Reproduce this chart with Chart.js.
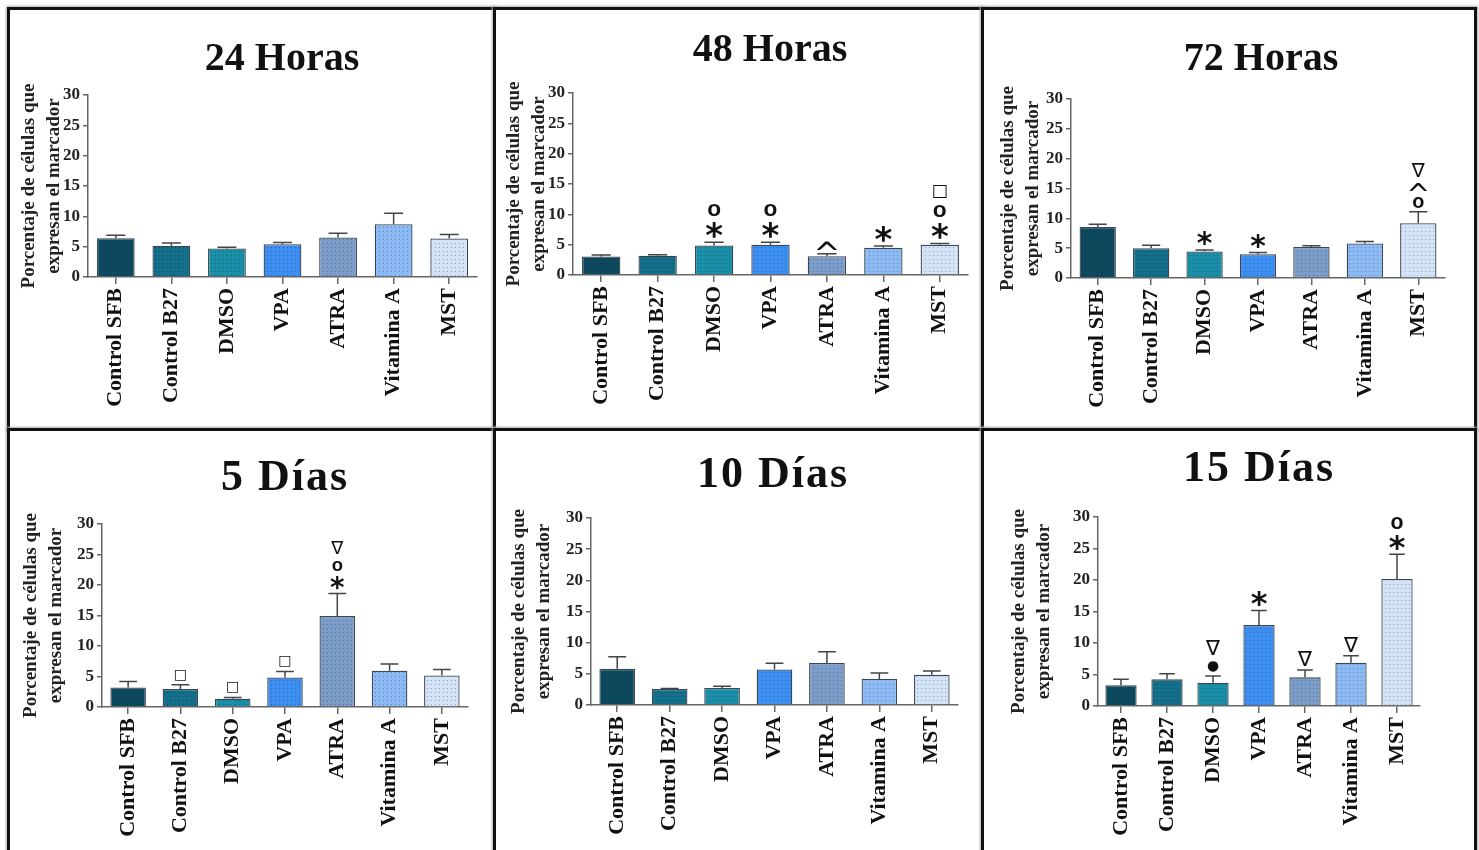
<!DOCTYPE html>
<html>
<head>
<meta charset="utf-8">
<script src="https://cdn.jsdelivr.net/npm/chart.js@4.4.1/dist/chart.umd.min.js"></script>
<style>
body { margin: 0; background: #fff; width: 1479px; height: 850px; overflow: hidden; position: relative; }
.panel { position: absolute; box-sizing: border-box; border: 3px solid #111; box-shadow: 0 0 2px 1px #aaa; background: #fff; }
.panel canvas { position: absolute; left: 0; top: 0; }
.ttl { position: absolute; width: 300px; text-align: center; color: #111; white-space: nowrap; font-family: "Liberation Serif", serif; z-index: 2; }
</style>
</head>
<body>
<script>
const categories = ['Control SFB', 'Control B27', 'DMSO', 'VPA', 'ATRA', 'Vitamina A', 'MST'];
const panelTitles = ['24 Horas', '48 Horas', '72 Horas', '5 Días', '10 Días', '15 Días'];
const yAxisTitle = ['Porcentaje de células que', 'expresan el marcador'];
const yMax = 30;
const yStep = 5;

// mean % of cells, and SEM (error bar length above the bar)
const values24h = [6.4, 5.15, 4.7, 5.4, 6.5, 8.7, 6.35];
const errors24h = [0.5, 0.45, 0.2, 0.3, 0.7, 1.8, 0.65];
const values48h = [3.05, 3.17, 4.87, 5.0, 3.1, 4.48, 5.0];
const errors48h = [0.25, 0.18, 0.53, 0.4, 0.4, 0.32, 0.2];
const values72h = [8.56, 4.98, 4.43, 3.98, 5.2, 5.77, 9.18];
const errors72h = [0.44, 0.52, 0.27, 0.28, 0.2, 0.33, 1.92];
const values5d = [3.2, 2.95, 1.36, 4.85, 14.9, 5.95, 5.18];
const errors5d = [1.0, 0.7, 0.21, 0.99, 3.7, 1.1, 0.98];
const values10d = [5.8, 2.56, 2.72, 5.7, 6.73, 4.17, 4.86];
const errors10d = [1.94, 0.09, 0.28, 0.98, 1.82, 0.96, 0.59];
const values15d = [3.28, 4.23, 3.7, 12.84, 4.55, 6.87, 20.17];
const errors15d = [0.95, 0.89, 1.05, 2.32, 1.15, 1.1, 3.92];

// significance marks, listed from the bar upwards
const marks24h = [[], [], [], [], [], [], []];
const marks48h = [[], [], ['*', 'o'], ['*', 'o'], ['^'], ['*'], ['*', 'o', '□']];
const marks72h = [[], [], ['*'], ['*'], [], [], ['o', '^', '∇']];
const marks5d = [[], ['□'], ['□'], ['□'], ['*', 'o', '∇'], [], []];
const marks10d = [[], [], [], [], [], [], []];
const marks15d = [[], [], ['●', '∇'], ['*'], ['∇'], ['∇'], ['*', 'o']];

const allValues = [values24h, values48h, values72h, values5d, values10d, values15d];
const allErrors = [errors24h, errors48h, errors72h, errors5d, errors10d, errors15d];
const allMarks = [marks24h, marks48h, marks72h, marks5d, marks10d, marks15d];

const barColors = ['#0d4a5f', '#14708a', '#1b8fa7', '#3d8ef1', '#7c9dc9', '#8cbaf5', '#d3e3f8'];

// page layout
const panelBoxes = [
    {x: 7, y: 7, w: 489, h: 424}, {x: 493, y: 7, w: 491, h: 424}, {x: 981, y: 7, w: 496, h: 424},
    {x: 7, y: 428, w: 489, h: 426}, {x: 493, y: 428, w: 491, h: 426}, {x: 981, y: 428, w: 496, h: 426}
];
const plotAreas = [
    {l: 88, r: 477, t: 95, b: 277}, {l: 573, r: 968, t: 93, b: 275}, {l: 1071, r: 1445, t: 99, b: 278},
    {l: 102, r: 468, t: 524, b: 707}, {l: 591, r: 958, t: 518, b: 705}, {l: 1098, r: 1420, t: 517, b: 706}
];
const titlePos = [{x: 282, y: 57}, {x: 770, y: 48}, {x: 1261, y: 57}, {x: 285, y: 476}, {x: 773, y: 473}, {x: 1259, y: 467}];
const titleSize = [40, 40, 40, 44, 44, 44];
const titleSpacing = [0, 0, 0, 2, 2, 2];
const yTitleX = [29, 514, 1008, 31, 519, 1019];
const markSize = [0, 16, 14, 13, 0, 15];
const markScale = {'*': 1, 'o': 0.78, '□': 0.85, '^': 0.55, '∇': 1.0, '●': 0.72};

function dotPattern(color) {
    const c = document.createElement('canvas');
    c.width = 4; c.height = 4;
    const g = c.getContext('2d');
    g.fillStyle = color;
    g.fillRect(0, 0, 4, 4);
    g.fillStyle = 'rgba(0,0,0,0.28)';
    g.fillRect(1, 1, 1, 1);
    return g.createPattern(c, 'repeat');
}

function markFont(glyph, px) {
    if (glyph === 'o') return 'bold ' + px + 'px "Liberation Sans"';
    if (glyph === '*') return 'bold ' + px + 'px "DejaVu Sans"';
    return px + 'px "DejaVu Sans"';
}

const errorBarPlugin = {
    id: 'errorBars',
    afterDatasetsDraw(chart, args, opts) {
        const ctx = chart.ctx;
        const y = chart.scales.y;
        const bars = chart.getDatasetMeta(0).data;
        ctx.save();
        ctx.strokeStyle = '#444';
        ctx.lineWidth = 1.5;
        ctx.fillStyle = '#111';
        bars.forEach((bar, k) => {
            const v = opts.values[k];
            const top = y.getPixelForValue(v + opts.errors[k]);
            const cap = bar.width * 0.25;
            ctx.beginPath();
            ctx.moveTo(bar.x, y.getPixelForValue(v));
            ctx.lineTo(bar.x, top);
            ctx.moveTo(bar.x - cap, top);
            ctx.lineTo(bar.x + cap, top);
            ctx.stroke();

            let base = top - 4;
            opts.marks[k].forEach(glyph => {
                const target = opts.size * markScale[glyph];
                ctx.font = markFont(glyph, 100);
                let m = ctx.measureText(glyph);
                const px = target / (m.actualBoundingBoxAscent + m.actualBoundingBoxDescent) * 100;
                ctx.font = markFont(glyph, px);
                m = ctx.measureText(glyph);
                ctx.textAlign = 'center';
                ctx.textBaseline = 'alphabetic';
                ctx.fillText(glyph, bar.x, base - m.actualBoundingBoxDescent);
                base -= target + 6;
            });
        });
        ctx.restore();
    }
};

const serif = '"Liberation Serif", serif';

panelTitles.forEach((title, i) => {
    const box = panelBoxes[i];
    const area = plotAreas[i];
    const panel = document.createElement('div');
    panel.className = 'panel';
    Object.assign(panel.style, {left: box.x + 'px', top: box.y + 'px', width: box.w + 'px', height: box.h + 'px'});
    document.body.appendChild(panel);

    const cx = box.x + 3, cy = box.y + 3, cw = box.w - 6, ch = box.h - 6;
    const canvas = document.createElement('canvas');
    canvas.width = cw; canvas.height = ch;
    canvas.style.width = cw + 'px'; canvas.style.height = ch + 'px';
    panel.appendChild(canvas);

    const heading = document.createElement('div');
    heading.className = 'ttl';
    heading.textContent = title;
    const fs = titleSize[i];
    heading.style.font = 'bold ' + fs + 'px ' + serif;
    heading.style.letterSpacing = titleSpacing[i] + 'px';
    heading.style.lineHeight = fs + 'px';
    heading.style.left = (titlePos[i].x - 150) + 'px';
    heading.style.top = (titlePos[i].y - fs / 2) + 'px';
    document.body.appendChild(heading);

    const yTitleFont = {family: serif, size: 19, weight: 'bold', lineHeight: 1.3};

    new Chart(canvas.getContext('2d'), {
        type: 'bar',
        data: {
            labels: categories,
            datasets: [{
                data: allValues[i],
                backgroundColor: barColors.map(dotPattern),
                borderColor: '#3a4652',
                borderWidth: 1.3,
                borderSkipped: 'bottom',
                barPercentage: 0.68,
                categoryPercentage: 1
            }]
        },
        options: {
            responsive: false,
            animation: false,
            events: [],
            layout: {padding: {left: 0, top: area.t - cy, right: cx + cw - area.r, bottom: 0}},
            plugins: {
                legend: {display: false},
                tooltip: {enabled: false},
                errorBars: {values: allValues[i], errors: allErrors[i], marks: allMarks[i], size: markSize[i]}
            },
            scales: {
                x: {
                    grid: {display: true, offset: false, drawOnChartArea: false, drawTicks: true, tickLength: 7, color: '#666', lineWidth: 1.5},
                    border: {color: '#666', width: 1.5},
                    ticks: {autoSkip: false, minRotation: 90, maxRotation: 90, padding: 4, color: '#111',
                        font: {family: serif, size: 22, weight: 'bold'}},
                    afterFit: s => { s.height = cy + ch - area.b; }
                },
                y: {
                    min: 0,
                    max: yMax,
                    ticks: {stepSize: yStep, padding: 3, color: '#222', font: {family: serif, size: 17, weight: 'bold'}},
                    grid: {drawOnChartArea: false, tickLength: 5, color: '#666', lineWidth: 1.5},
                    border: {color: '#666', width: 1.5},
                    title: {display: true, text: yAxisTitle, color: '#222', font: yTitleFont,
                        padding: {top: yTitleX[i] - cx - 19 * 1.3 / 2, bottom: 0}},
                    afterFit: s => { s.width = area.l - cx; }
                }
            }
        },
        plugins: [errorBarPlugin]
    });
});
</script>
</body>
</html>
